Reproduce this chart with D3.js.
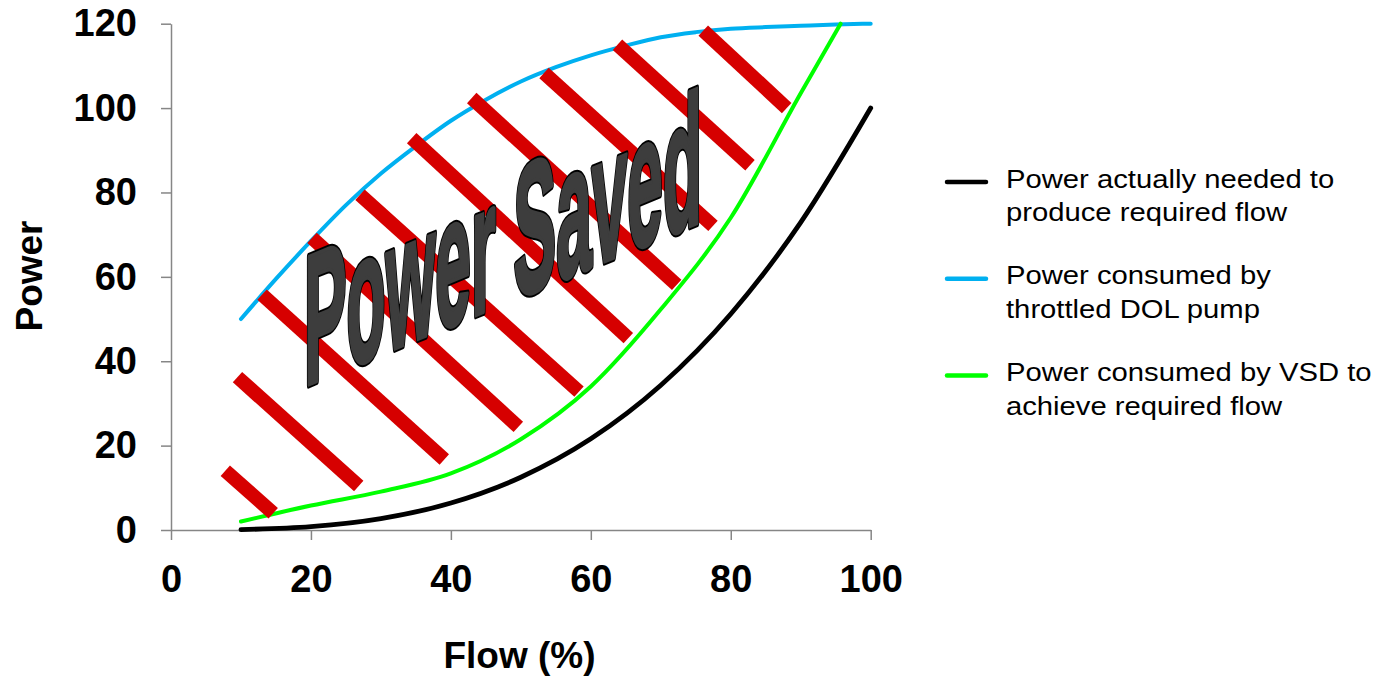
<!DOCTYPE html>
<html>
<head>
<meta charset="utf-8">
<script src="https://cdn.jsdelivr.net/npm/d3@7"></script>
<style>
  html, body { margin: 0; padding: 0; background: #fff; }
  svg { display: block; }
</style>
</head>
<body>
<svg id="chart" width="1381" height="678"></svg>
<script>
// ---------------- data ----------------
const xTicks = [0, 20, 40, 60, 80, 100];
const yTicks = [0, 20, 40, 60, 80, 100, 120];

const flowNeeded = [10, 20, 30, 40, 50, 60, 70, 80, 90, 100];
const powerNeeded = [0.1, 0.8, 2.7, 6.4, 12.5, 21.6, 34.3, 51.2, 72.9, 100];

const flowDOL = [10, 15, 20, 25, 30, 35, 40, 45, 50, 55, 60, 65, 70, 75, 80, 85, 90, 95, 100];
const powerDOL = [50, 59.5, 68.5, 77, 84.5, 91, 97, 102, 106.3, 109.7, 112.5, 114.8, 116.8, 118, 118.8, 119.2, 119.5, 119.8, 120];

const flowVSD = [10, 20, 30, 40, 50, 60, 70, 80, 90, 95.7];
const powerVSD = [2, 5.8, 9.1, 13.4, 21.5, 34, 52.3, 74, 103.5, 120];

const seriesNames = [
  ["Power actually needed to", "produce required flow"],
  ["Power consumed by", "throttled DOL pump"],
  ["Power consumed by VSD to", "achieve required flow"]
];
const seriesColors = ["#000000", "#00b0f0", "#00ff00"];

// hatch segments of the "power saved" region: [flow, power] start and end
const hatchStart = [[7.76, 14.06], [9.50, 36.24], [13.01, 55.80], [20.15, 69.25], [27.01, 79.45],
                    [34.40, 92.89], [42.98, 102.38], [53.31, 108.31], [63.81, 115.02], [76.07, 118.34]];
const hatchEnd   = [[14.61, 3.96], [26.83, 10.43], [39.06, 16.72], [49.64, 24.43], [58.31, 32.80],
                    [65.36, 45.46], [72.27, 58.10], [77.46, 72.09], [82.75, 86.44], [87.99, 100.01]];

const annotationText = "Power Saved";
const annotationAt = [19, 34]; // flow, power of lower-left corner

const xTitle = "Flow (%)";
const yTitle = "Power";

// ---------------- chart ----------------
const svg = d3.select("#chart");
const x = d3.scaleLinear().domain([0, 100]).range([171, 870.7]);
const y = d3.scaleLinear().domain([0, 120]).range([530, 23.7]);

const axisColor = "#868686";
const boldFont = "'Liberation Sans', Arial, sans-serif";

// axes
const gx = svg.append("g").attr("transform", `translate(0,${y(0)})`)
  .call(d3.axisBottom(x).tickValues(xTicks).tickSize(10).tickPadding(25).tickSizeOuter(0));
const gy = svg.append("g").attr("transform", `translate(${x(0)},0)`)
  .call(d3.axisLeft(y).tickValues(yTicks).tickSize(10).tickPadding(24).tickSizeOuter(0));
[gx, gy].forEach(g => {
  g.select(".domain").attr("stroke", axisColor).attr("stroke-width", 1.5);
  g.selectAll(".tick line").attr("stroke", axisColor).attr("stroke-width", 1.5);
  g.selectAll(".tick text").attr("fill", "#000").attr("font-family", boldFont)
    .attr("font-weight", "bold").attr("font-size", 38);
});

// curves
const line = d3.line().x(d => x(d[0])).y(d => y(d[1])).curve(d3.curveMonotoneX);
const series = [
  d3.zip(flowNeeded, powerNeeded),
  d3.zip(flowDOL, powerDOL),
  d3.zip(flowVSD, powerVSD)
];
const widths = [4.8, 4, 4];
svg.append("g").selectAll("path").data(series).join("path")
  .attr("d", line)
  .attr("fill", "none")
  .attr("stroke", (d, i) => seriesColors[i])
  .attr("stroke-width", (d, i) => widths[i])
  .attr("stroke-linecap", "round")
  .attr("stroke-linejoin", "round");

// hatch bars
svg.append("g").selectAll("line").data(d3.zip(hatchStart, hatchEnd)).join("line")
  .attr("x1", d => x(d[0][0])).attr("y1", d => y(d[0][1]))
  .attr("x2", d => x(d[1][0])).attr("y2", d => y(d[1][1]))
  .attr("stroke", "#d60000").attr("stroke-width", 14).attr("stroke-linecap", "butt");

// annotation (WordArt-like): black outer outline, then heavy grey body
const fs = 64, capH = 133;
const ann = svg.append("g")
  .attr("transform", `translate(${x(annotationAt[0])},${y(annotationAt[1])}) skewY(-22.56) scale(1,${capH / (fs * 0.716)})`);
[["#000", 6], ["#3d3d3d", 3]].forEach(([sc, sw]) => {
  ann.append("text")
    .attr("x", 0).attr("y", 0)
    .attr("font-family", boldFont).attr("font-weight", "bold").attr("font-size", fs)
    .attr("textLength", 398).attr("lengthAdjust", "spacingAndGlyphs")
    .attr("fill", "#3d3d3d").attr("stroke", sc).attr("stroke-width", sw)
    .attr("stroke-linejoin", "round")
    .attr("vector-effect", "non-scaling-stroke")
    .style("vector-effect", "non-scaling-stroke")
    .text(annotationText);
});

// axis titles
svg.append("text").attr("x", 519.5).attr("y", 668).attr("text-anchor", "middle")
  .attr("font-family", boldFont).attr("font-weight", "bold").attr("font-size", 37)
  .text(xTitle);
svg.append("text").attr("transform", "translate(41.5,276) rotate(-90)").attr("text-anchor", "middle")
  .attr("font-family", boldFont).attr("font-weight", "bold").attr("font-size", 37)
  .text(yTitle);

// legend
const legend = svg.append("g");
const legY0 = 187.5, entryGap = 96.8, lineGap = 33.6;
seriesNames.forEach((lines, i) => {
  const by = legY0 + i * entryGap;
  legend.append("line").attr("x1", 947).attr("x2", 986).attr("y1", by - 5.5).attr("y2", by - 5.5)
    .attr("stroke", seriesColors[i]).attr("stroke-width", 4.5).attr("stroke-linecap", "round");
  lines.forEach((t, j) => {
    legend.append("text")
      .attr("transform", `translate(1006,${by + j * lineGap}) scale(1.17,1)`)
      .attr("font-family", "'Liberation Sans', Arial, sans-serif").attr("font-size", 25)
      .attr("fill", "#000").text(t);
  });
});
</script>
</body>
</html>
